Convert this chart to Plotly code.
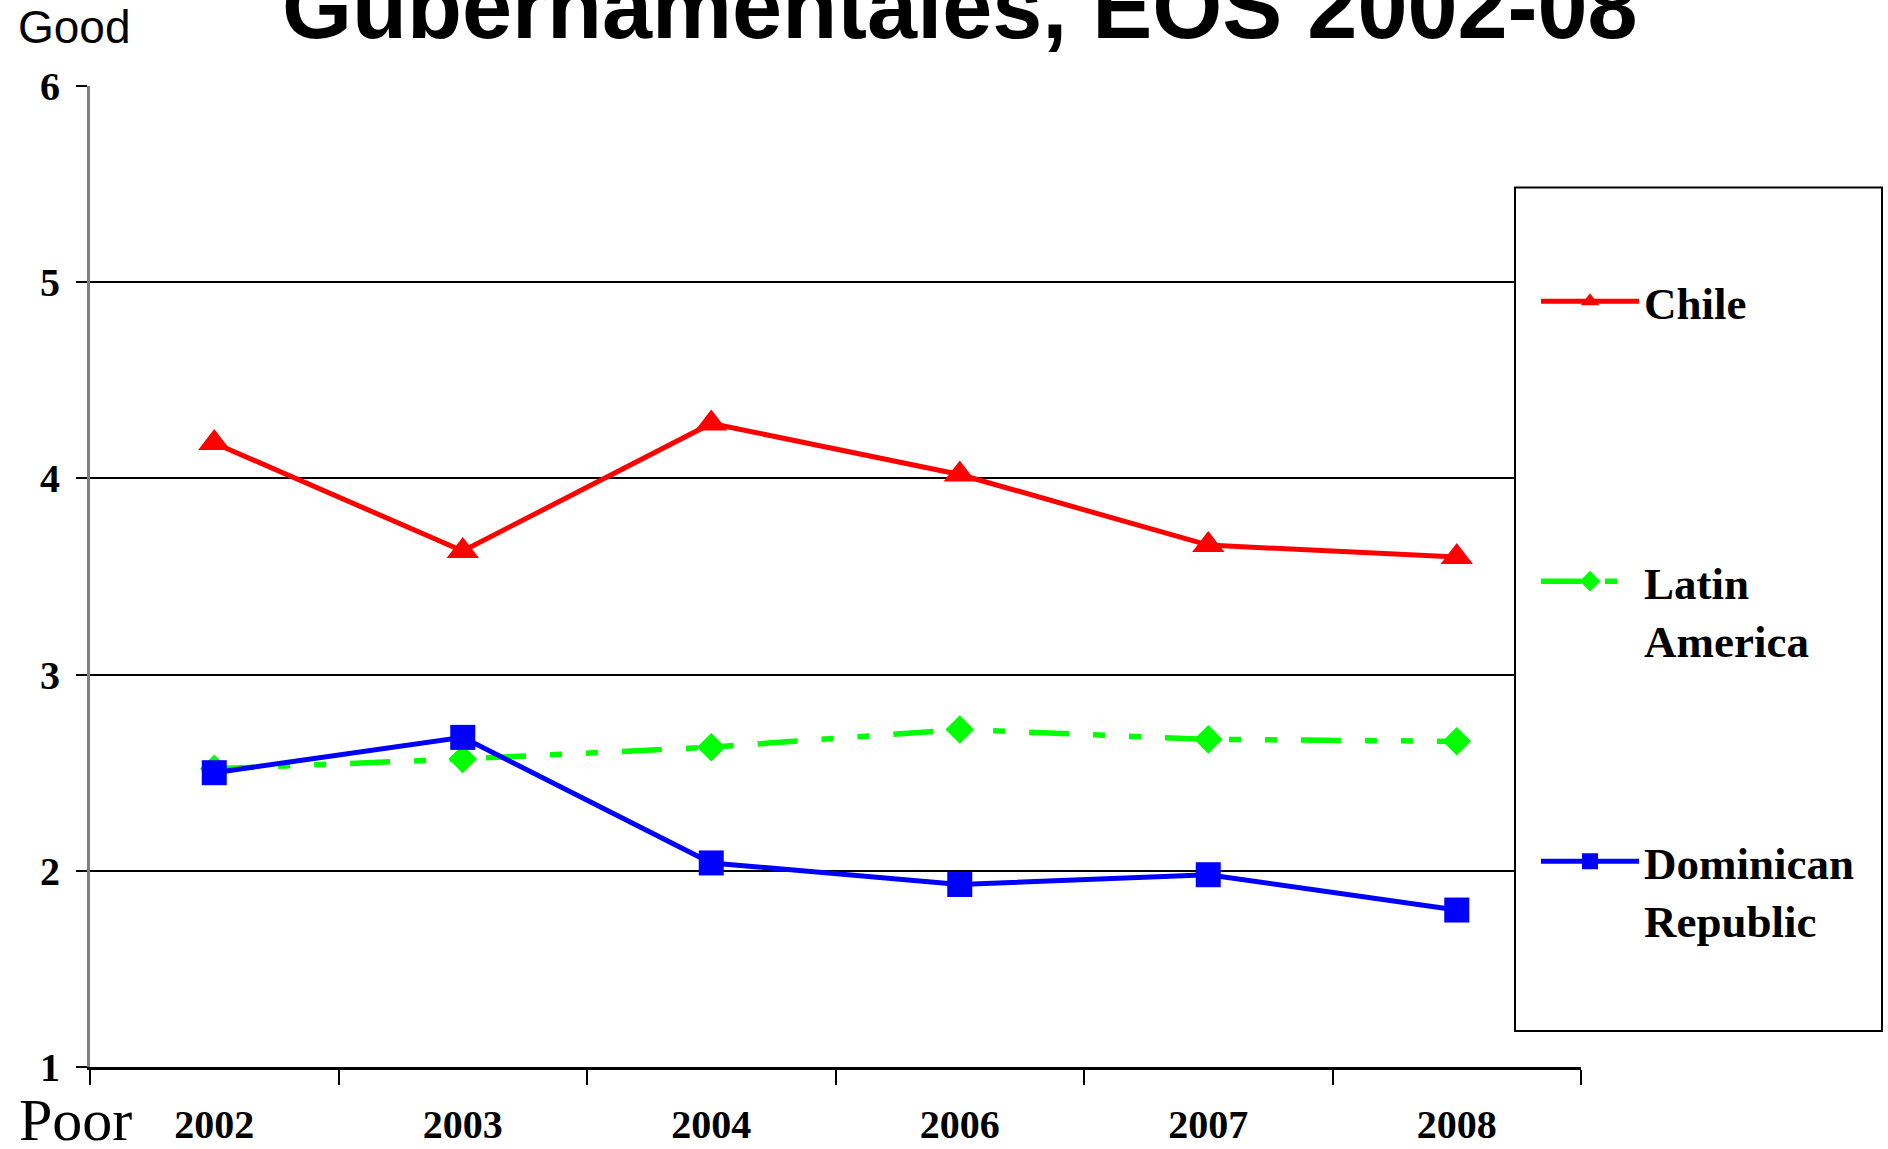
import plotly.graph_objects as go

years = ["2002", "2003", "2004", "2006", "2007", "2008"]
chile = [4.18, 3.63, 4.28, 4.02, 3.66, 3.60]
latin_america = [2.52, 2.57, 2.63, 2.72, 2.67, 2.66]
dominican = [2.50, 2.68, 2.04, 1.93, 1.98, 1.80]
names = ["Chile<br>&nbsp;", "Latin<br>America", "Dominican<br>Republic"]
title_text = "Gubernamentales, EOS 2002-08"

W, H = 1888, 1149
L, R, T, B = 90, 1581, 85.5, 1067
PW, PH = R - L, B - T


def px(x):
    return (x - L) / PW


def py(y):
    return (B - y) / PH


fig = go.Figure()
fig.add_trace(go.Scatter(
    x=years, y=chile, name=names[0], mode="lines+markers", legendgroup="a",
    line=dict(color="#FF0000", width=5),
    marker=dict(symbol="triangle-up", size=28, color="#FF0000")))
fig.add_trace(go.Scatter(
    x=years, y=latin_america, name=names[1], mode="lines+markers", legendgroup="b",
    line=dict(color="#00FF00", width=5.5, dash="40px,24px,12px,24px,12px,24px"),
    marker=dict(symbol="diamond", size=22, color="#00FF00")))
fig.add_trace(go.Scatter(
    x=years, y=dominican, name=names[2], mode="lines+markers", legendgroup="c",
    line=dict(color="#0000FF", width=5),
    marker=dict(symbol="square", size=25, color="#0000FF")))

serif = "Liberation Serif"
sans = "Liberation Sans"

fig.update_layout(
    width=W, height=H,
    margin=dict(l=L, r=W - R, t=T, b=H - B, autoexpand=False),
    paper_bgcolor="white", plot_bgcolor="white",
    showlegend=True,
    legend=dict(
        x=px(1536), y=py(265), xanchor="left", yanchor="top",
        bgcolor="rgba(0,0,0,0)", borderwidth=0,
        font=dict(family=serif, size=45, color="black", weight="bold"),
        tracegroupgap=160, valign="top", itemwidth=98,
    ),
    xaxis=dict(
        type="category", range=[-0.5, 5.5],
        showgrid=False, zeroline=False,
        showline=True, linecolor="black", linewidth=3,
        ticks="outside", tickson="boundaries", ticklen=15, tickwidth=1.5, tickcolor="black",
        ticklabelstandoff=20,
        tickfont=dict(family=serif, size=40, color="black", weight="bold"),
    ),
    yaxis=dict(
        range=[1, 6], dtick=1, tick0=1,
        showgrid=True, gridcolor="black", gridwidth=1.5,
        zeroline=False,
        showline=True, linecolor="#808080", linewidth=3,
        ticks="outside", ticklen=11, tickwidth=1.5, tickcolor="black",
        ticklabelstandoff=8,
        tickfont=dict(family=serif, size=40, color="black", weight="bold"),
    ),
    shapes=[dict(
        type="rect", xref="paper", yref="paper",
        x0=px(1515), x1=px(1882), y0=py(1031), y1=py(187),
        line=dict(color="black", width=2), fillcolor="white", layer="above",
    )],
    annotations=[
        dict(text=title_text, xref="paper", yref="paper", x=px(960), y=py(6),
             xanchor="center", yanchor="middle", showarrow=False,
             font=dict(family=sans, size=90, color="black", weight="bold")),
        dict(text="Good", xref="paper", yref="paper", x=px(16), y=py(26),
             xanchor="left", yanchor="middle", showarrow=False,
             font=dict(family=sans, size=46, color="black")),
        dict(text="Poor", xref="paper", yref="paper", x=px(17), y=py(1120),
             xanchor="left", yanchor="middle", showarrow=False,
             font=dict(family=serif, size=60, color="black")),
    ],
)

fig.write_html("out.html", config={"displayModeBar": False},
               post_script="document.body.style.margin='0';")
